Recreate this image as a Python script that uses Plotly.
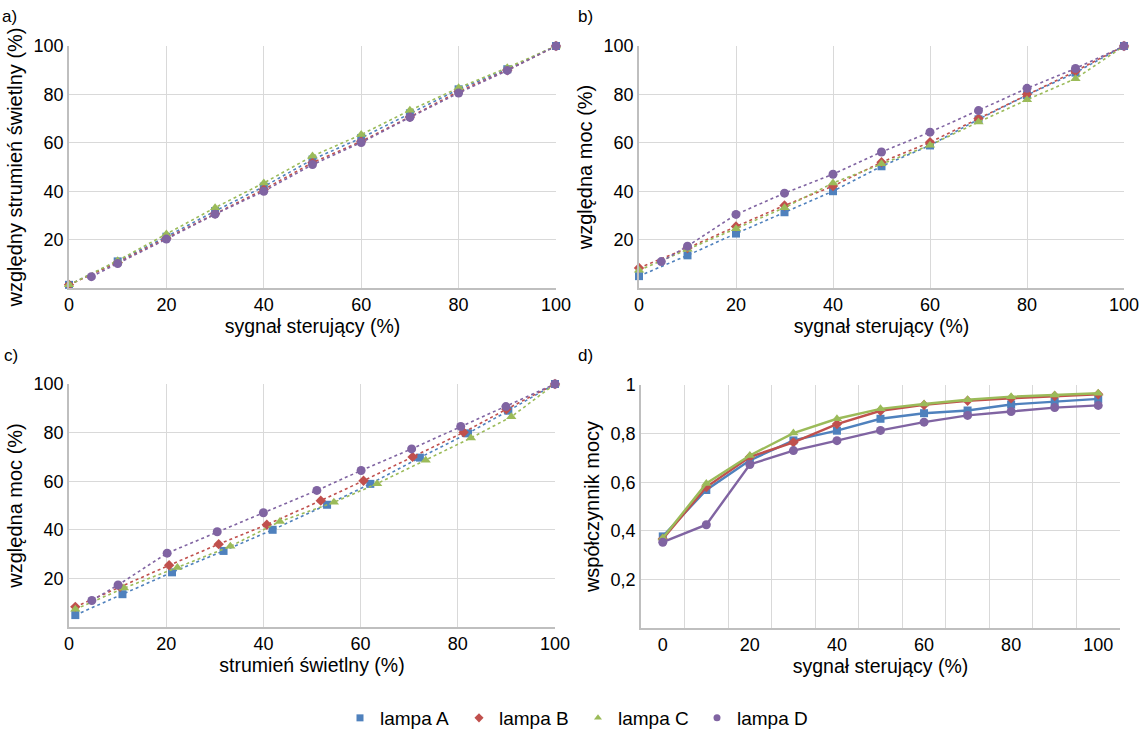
import plotly.graph_objects as go

# ---------------- data ----------------
signal = [0, 10, 20, 30, 40, 50, 60, 70, 80, 90, 100]
signal_D = [4.6, 10, 20, 30, 40, 50, 60, 70, 80, 90, 100]

flux_A = [1.3, 11.0, 21.2, 31.8, 41.9, 53.1, 62.0, 72.2, 82.1, 90.4, 100]
flux_B = [1.3, 10.5, 20.6, 30.8, 40.7, 51.8, 60.6, 70.7, 81.2, 90.0, 100]
flux_C = [1.3, 11.3, 22.3, 33.2, 43.4, 54.5, 63.4, 73.4, 82.7, 91.0, 100]
flux_D = [4.7, 10.1, 20.2, 30.5, 40.0, 51.0, 60.1, 70.5, 80.6, 89.9, 100]

power_A = [4.9, 13.5, 22.5, 31.3, 40.0, 50.3, 58.9, 69.7, 79.7, 89.0, 100]
power_B = [8.3, 16.5, 25.4, 34.1, 42.1, 52.0, 60.2, 70.0, 80.1, 89.6, 100]
power_C = [7.3, 16.0, 24.5, 33.2, 43.4, 51.3, 59.0, 68.6, 77.8, 86.5, 100]
power_D = [10.9, 17.3, 30.4, 39.2, 47.0, 56.2, 64.4, 73.3, 82.5, 90.7, 100]

pf_categories = [0, 10, 20, 30, 40, 50, 60, 70, 80, 90, 100]
pf_A = [0.377, 0.568, 0.690, 0.772, 0.812, 0.861, 0.884, 0.895, 0.920, 0.930, 0.943]
pf_B = [0.366, 0.580, 0.704, 0.764, 0.839, 0.894, 0.918, 0.935, 0.945, 0.955, 0.962]
pf_C = [0.370, 0.595, 0.710, 0.802, 0.861, 0.902, 0.922, 0.939, 0.952, 0.959, 0.966]
pf_D = [0.353, 0.425, 0.673, 0.730, 0.771, 0.813, 0.847, 0.875, 0.891, 0.907, 0.916]

lamp_names = ["lampa A", "lampa B", "lampa C", "lampa D"]
pct_ticks = [0, 20, 40, 60, 80, 100]
pct_yticks = [20, 40, 60, 80, 100]
pf_ticks = [0.2, 0.4, 0.6, 0.8, 1]
pf_ticktext = ["0,2", "0,4", "0,6", "0,8", "1"]
pf_minor_grid = [5, 15, 25, 35, 45, 55, 65, 75, 85, 95]

colors = ["#4F81BD", "#C0504D", "#9BBB59", "#8064A2"]
symbols = ["square", "diamond", "triangle-up", "circle"]
msize = [8, 8, 9, 9]

W, H = 1146, 733
FONT = "Liberation Sans, Arial, sans-serif"

def fx(p):
    return p / W

def fy(p):
    return 1 - p / H

fig = go.Figure()

sig_sets = [signal, signal, signal, signal_D]
flux_sets = [flux_A, flux_B, flux_C, flux_D]
power_sets = [power_A, power_B, power_C, power_D]
pf_sets = [pf_A, pf_B, pf_C, pf_D]

def add(x, y, i, xa, ya, dotted):
    fig.add_trace(go.Scatter(
        x=x, y=y, mode="lines+markers", xaxis=xa, yaxis=ya,
        line=dict(color=colors[i], width=1.6 if dotted else 2.4,
                  dash="dot" if dotted else "solid"),
        marker=dict(symbol=symbols[i], size=msize[i], color=colors[i]),
        showlegend=False, cliponaxis=False, name=lamp_names[i]))

for i in range(4):
    add(sig_sets[i], flux_sets[i], i, "x", "y", True)
for i in range(4):
    add(sig_sets[i], power_sets[i], i, "x2", "y2", True)
for i in range(4):
    add(flux_sets[i], power_sets[i], i, "x3", "y3", True)
for i in range(4):
    add(pf_categories, pf_sets[i], i, "x4", "y4", False)

# legend-only entries (markers only, like the reference)
for i in range(4):
    fig.add_trace(go.Scatter(
        x=[None], y=[None], mode="markers", name=lamp_names[i],
        marker=dict(symbol=symbols[i], size=7, color=colors[i]),
        showlegend=True))

grid = "#D9D9D9"
axc = "#BFBFBF"
tickfont = dict(family=FONT, size=18, color="#000000")
xtitlefont = dict(family=FONT, size=19.5, color="#000000")
ytitlefont = dict(family=FONT, size=20, color="#000000")

def xax(dom, anchor, title):
    return dict(domain=dom, anchor=anchor, range=[0, 100], tickvals=pct_ticks,
                showgrid=True, gridcolor=grid, gridwidth=1.3,
                showline=True, linecolor=axc, linewidth=1.5,
                zeroline=False, ticks="", tickfont=tickfont, automargin=False,
                title=dict(text=title, font=xtitlefont, standoff=4))

def yax(dom, anchor, title):
    return dict(domain=dom, anchor=anchor, range=[0, 100], tickvals=pct_yticks,
                showgrid=True, gridcolor=grid, gridwidth=1.3,
                showline=True, linecolor=axc, linewidth=1.5,
                zeroline=False, ticks="", tickfont=tickfont, automargin=False,
                title=dict(text=title, font=ytitlefont, standoff=6))

dA_x = [fx(69), fx(556)]
dB_x = [fx(639), fx(1124)]
dC_x = [fx(69), fx(555)]
dD_x = [fx(641), fx(1120)]
top_y = [fy(288), fy(46)]
bot_y = [fy(627), fy(384)]
bot_yd = [fy(628), fy(385)]

fig.update_layout(
    width=W, height=H,
    margin=dict(l=0, r=0, t=0, b=0, pad=0, autoexpand=False),
    paper_bgcolor="white", plot_bgcolor="white",
    font=dict(family=FONT, size=18, color="#000000"),
    xaxis=xax(dA_x, "y", "sygnał sterujący (%)"),
    yaxis=yax(top_y, "x", "względny strumień świetlny (%)"),
    xaxis2=xax(dB_x, "y2", "sygnał sterujący (%)"),
    yaxis2=yax(top_y, "x2", "względna moc (%)"),
    xaxis3=xax(dC_x, "y3", "strumień świetlny (%)"),
    yaxis3=yax(bot_y, "x3", "względna moc (%)"),
    xaxis4=dict(domain=dD_x, anchor="y4", range=[-5, 105], tickvals=pct_ticks,
                showgrid=False, showline=True, linecolor=axc, linewidth=1.5,
                zeroline=False, ticks="", tickfont=tickfont, automargin=False,
                minor=dict(tickmode="array", tickvals=pf_minor_grid, showgrid=True,
                           gridcolor=grid, gridwidth=1.3, ticks=""),
                title=dict(text="sygnał sterujący (%)", font=xtitlefont, standoff=4)),
    yaxis4=dict(domain=bot_yd, anchor="x4", range=[0, 1], tickvals=pf_ticks,
                ticktext=pf_ticktext,
                showgrid=True, gridcolor=grid, gridwidth=1.3,
                showline=True, linecolor=axc, linewidth=1.5,
                zeroline=False, ticks="", tickfont=tickfont, automargin=False,
                title=dict(text="współczynnik mocy", font=ytitlefont, standoff=6)),
    legend=dict(orientation="h", x=fx(578), xanchor="center", y=fy(718), yanchor="middle",
                font=dict(family=FONT, size=19, color="#000000"),
                itemwidth=30, entrywidth=74, entrywidthmode="pixels",
                bgcolor="rgba(0,0,0,0)"),
    annotations=[
        dict(text="a)", x=0, y=fy(16), xref="paper", yref="paper", xanchor="left",
             yanchor="middle", showarrow=False, font=dict(family=FONT, size=17)),
        dict(text="b)", x=fx(576), y=fy(16), xref="paper", yref="paper", xanchor="left",
             yanchor="middle", showarrow=False, font=dict(family=FONT, size=17)),
        dict(text="c)", x=fx(2), y=fy(355), xref="paper", yref="paper", xanchor="left",
             yanchor="middle", showarrow=False, font=dict(family=FONT, size=17)),
        dict(text="d)", x=fx(576), y=fy(355), xref="paper", yref="paper", xanchor="left",
             yanchor="middle", showarrow=False, font=dict(family=FONT, size=17)),
    ],
)

fig.write_html("out.html")
